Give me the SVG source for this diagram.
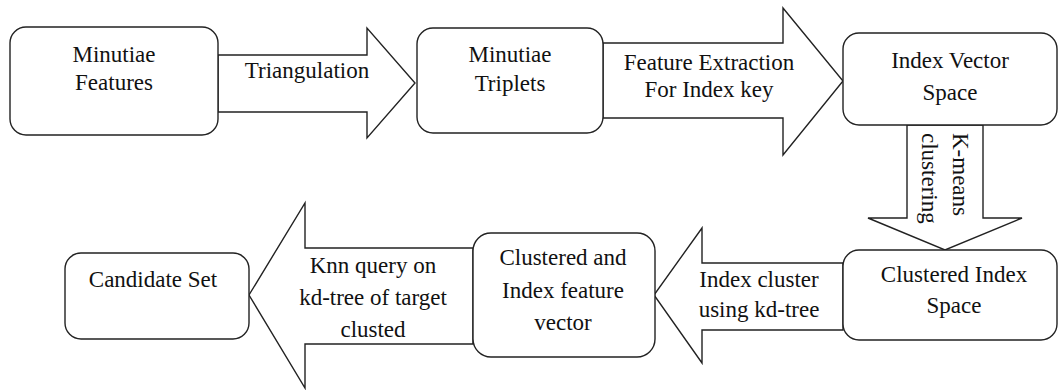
<svg xmlns="http://www.w3.org/2000/svg" width="1058" height="390" viewBox="0 0 1058 390" font-family="'Liberation Serif', 'DejaVu Serif', serif">
<style>
.box{fill:#fff;stroke:#222;stroke-width:1.4}
.arr{fill:#fff;stroke:#222;stroke-width:1.4;stroke-linejoin:miter}
text{font-size:23px;fill:#111;text-anchor:middle}
.st{text-anchor:start}
</style>
<rect width="1058" height="390" fill="#fff"/>
<g id="connectors">
<polygon class="arr" points="218,55 367,55 367,28 415,83 367,138 367,112 218,112"/>
<polygon class="arr" points="603,43 783,43 783,8 843,81 783,155 783,118 603,118"/>
<polygon class="arr" points="907,125 983,125 983,218 1022,218 945,250 868,218 907,218"/>
<polygon class="arr" points="843,263 702,263 702,228 654,295 702,363 702,330 843,330"/>
<polygon class="arr" points="473,248 305,248 305,203 249,295 305,388 305,344 473,344"/>
<text x="307" y="78">Triangulation</text>
<text x="709" y="70">Feature Extraction</text>
<text x="709" y="97">For Index key</text>
<g transform="translate(953,133) rotate(90)"><text class="st" x="0" y="0">K-means</text><text class="st" x="0" y="31">clustering</text></g>
<text x="759" y="287">Index cluster</text>
<text x="759" y="317">using kd-tree</text>
<text x="373" y="273">Knn query on</text>
<text x="373" y="305">kd-tree of target</text>
<text x="373" y="337">clusted</text>
</g>
<g id="n1"><rect class="box" x="10" y="27" width="208" height="108" rx="16"/><text x="114" y="62">Minutiae</text><text x="114" y="90">Features</text></g>
<g id="n2"><rect class="box" x="417" y="28" width="186" height="105" rx="16"/><text x="510" y="62">Minutiae</text><text x="510" y="91">Triplets</text></g>
<g id="n3"><rect class="box" x="843" y="33" width="214" height="92" rx="16"/><text x="950" y="68">Index Vector</text><text x="950" y="100">Space</text></g>
<g id="n4"><rect class="box" x="843" y="250" width="214" height="90" rx="16"/><text x="954" y="282">Clustered Index</text><text x="954" y="313">Space</text></g>
<g id="n5"><rect class="box" x="473" y="233" width="182" height="124" rx="18"/><text x="563" y="265">Clustered and</text><text x="563" y="298">Index feature</text><text x="563" y="330">vector</text></g>
<g id="n6"><rect class="box" x="65" y="253" width="184" height="86" rx="16"/><text x="153" y="287">Candidate Set</text></g>
</svg>
